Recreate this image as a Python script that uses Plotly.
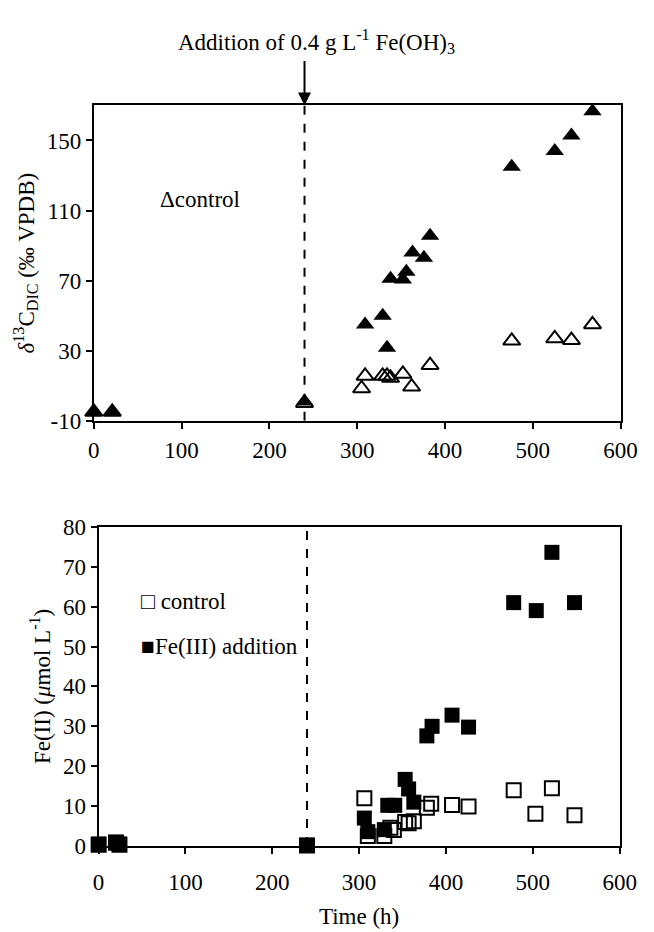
import plotly.graph_objects as go

W, H = 654, 932
FONT = "Liberation Serif, Times New Roman, serif"
FS = 23

ADDITION_TIME = 240

# Top panel: delta13C DIC (permil VPDB)
top_ctrl_t = [0, 21, 240, 305, 309, 329, 334, 338, 352, 362, 383, 476, 525, 544, 568]
top_ctrl_v = [-5, -5, 0, 8.4, 15.6, 15.6, 15.6, 14.4, 16.7, 9.4, 21.7, 35.6, 37, 36, 45]
top_fe_t = [0, 21, 240, 309, 329, 334, 338, 352, 356, 363, 376, 383, 476, 525, 544, 568]
top_fe_v = [-5, -5, 1, 45, 50, 31.7, 71, 70.6, 75, 86, 83, 95.6, 135, 144, 152.8, 166.7]

# Bottom panel: Fe(II) (umol/L)
bot_ctrl_t = [0, 20, 24, 240, 306, 310, 329, 336, 340, 353, 357, 363, 378, 383, 407, 426, 478, 503, 522, 548]
bot_ctrl_v = [0.3, 0.8, 0.3, 0.1, 12, 2.5, 2.5, 4.6, 4.0, 6.0, 5.7, 6.2, 9.6, 10.6, 10.3, 9.9, 14, 8.1, 14.5, 7.7]
bot_fe_t = [0, 20, 24, 240, 306, 310, 329, 333, 341, 353, 357, 363, 378, 384, 407, 426, 478, 504, 522, 548]
bot_fe_v = [0.5, 1.0, 0.5, 0.2, 7, 3.6, 4.1, 10.2, 10.2, 16.7, 14.3, 11, 27.6, 30, 32.8, 29.8, 61, 59, 73.6, 61]

x_ticks = [0, 100, 200, 300, 400, 500, 600]
top_y_ticks = [-10, 30, 70, 110, 150]
top_y_labels = ["-10", "30", "70", "110", "150"]
bot_y_ticks = [0, 10, 20, 30, 40, 50, 60, 70, 80]

fig = go.Figure()

fig.add_trace(go.Scatter(x=top_ctrl_t, y=top_ctrl_v, mode="markers", xaxis="x", yaxis="y",
                         marker=dict(symbol="triangle-up-open", size=15, color="black", line=dict(width=2, color="black")),
                         cliponaxis=False, showlegend=False))
fig.add_trace(go.Scatter(x=top_fe_t, y=top_fe_v, mode="markers", xaxis="x", yaxis="y",
                         marker=dict(symbol="triangle-up", size=16, color="black"),
                         cliponaxis=False, showlegend=False))
fig.add_trace(go.Scatter(x=bot_ctrl_t, y=bot_ctrl_v, mode="markers", xaxis="x2", yaxis="y2",
                         marker=dict(symbol="square-open", size=14, color="black", line=dict(width=2, color="black")),
                         cliponaxis=False, showlegend=False))
fig.add_trace(go.Scatter(x=bot_fe_t, y=bot_fe_v, mode="markers", xaxis="x2", yaxis="y2",
                         marker=dict(symbol="square", size=15, color="black"),
                         cliponaxis=False, showlegend=False))

axis_common = dict(showline=True, linecolor="black", linewidth=2, mirror=True, showgrid=False,
                   zeroline=False, ticks="outside", ticklen=6, tickwidth=2, tickcolor="black",
                   tickfont=dict(family=FONT, size=FS, color="black"))

fig.update_layout(
    width=W, height=H, margin=dict(l=0, r=0, t=0, b=0),
    paper_bgcolor="white", plot_bgcolor="white",
    font=dict(family=FONT, size=FS, color="black"),
    xaxis=dict(domain=[91 / W, 637 / W], range=[0, 600], tickvals=x_ticks, anchor="y",
               ticklabelstandoff=2, **axis_common),
    yaxis=dict(domain=[1 - 420 / H, 1 - 96 / H], range=[-10, 170], tickvals=top_y_ticks, ticktext=top_y_labels,
               anchor="x",
               title=dict(text="<i>δ</i><sup>13</sup>C<sub>DIC</sub> (‰ VPDB)", font=dict(family=FONT, size=FS), standoff=6),
               **axis_common),
    xaxis2=dict(domain=[96 / W, 636 / W], range=[0, 600], tickvals=x_ticks, anchor="y2", ticklabelstandoff=8,
                title=dict(text="Time (h)", font=dict(family=FONT, size=FS), standoff=14), **axis_common),
    yaxis2=dict(domain=[1 - 857 / H, 1 - 529 / H], range=[0, 80], tickvals=bot_y_ticks, anchor="x2",
                title=dict(text="Fe(II) (<i>μ</i>mol L<sup>-1</sup>)", font=dict(family=FONT, size=FS), standoff=6),
                **axis_common),
)

# dashed lines at addition time
fig.add_shape(type="line", xref="x", yref="y", x0=ADDITION_TIME, x1=ADDITION_TIME, y0=-10, y1=170,
              line=dict(color="black", width=2, dash="dash"))
fig.add_shape(type="line", xref="x2", yref="y2", x0=ADDITION_TIME, x1=ADDITION_TIME, y0=0, y1=80,
              line=dict(color="black", width=2, dash="dash"))

# arrow and label
fig.add_annotation(xref="x", yref="y", x=ADDITION_TIME, y=170, text="", showarrow=True,
                   ax=0, ay=-46, arrowhead=2, arrowsize=1.3, arrowwidth=2, arrowcolor="black", standoff=0)
fig.add_annotation(xref="paper", yref="paper", x=322 / W, y=1 - 30 / H, xanchor="center", yanchor="middle",
                   text="Addition of 0.4 g L<sup>-1</sup> Fe(OH)<sub>3</sub>", showarrow=False,
                   font=dict(family=FONT, size=FS, color="black"))

# legends as text
fig.add_annotation(xref="paper", yref="paper", x=158 / W, y=1 - 193 / H, xanchor="left", yanchor="middle",
                   text="Δcontrol", showarrow=False, font=dict(family=FONT, size=FS, color="black"))
fig.add_annotation(xref="paper", yref="paper", x=138 / W, y=1 - 606 / H, xanchor="left", yanchor="middle",
                   text="□ control", showarrow=False, font=dict(family=FONT, size=FS, color="black"))
fig.add_annotation(xref="paper", yref="paper", x=138 / W, y=1 - 652 / H, xanchor="left", yanchor="middle",
                   text="■Fe(III) addition", showarrow=False, font=dict(family=FONT, size=FS, color="black"))

fig.write_html("out.html")
